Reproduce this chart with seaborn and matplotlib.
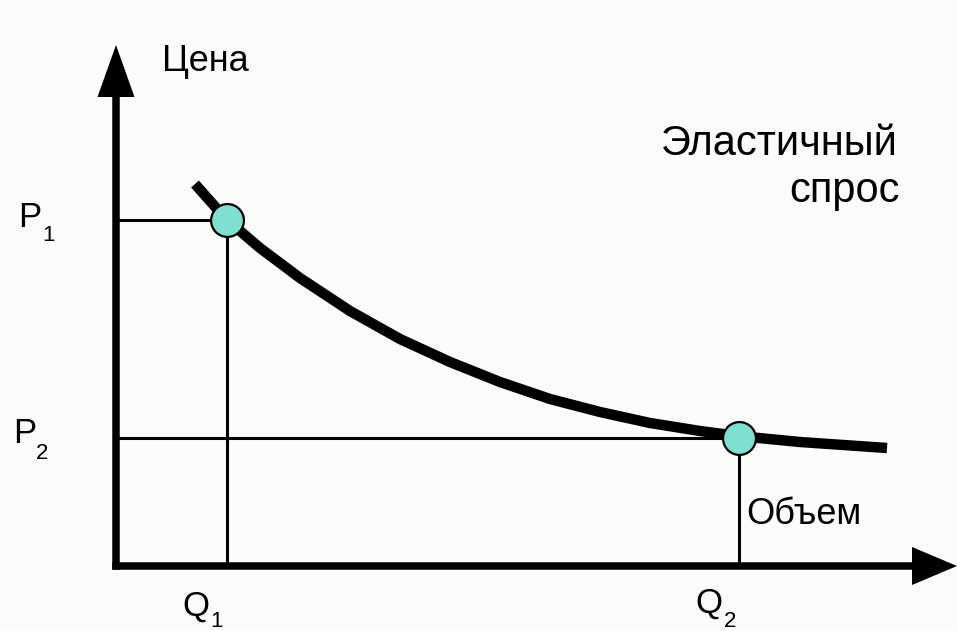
import matplotlib

matplotlib.use("Agg")
import matplotlib.pyplot as plt
import pandas as pd
import seaborn as sns

# demand curve (quantity, price), 1 unit ~ 1 px
demand_q = [79, 110, 144, 184, 234, 284, 334, 384, 434, 484, 534, 584, 622, 684, 771]
demand_p = [382, 347, 318, 288, 255, 227, 204, 184, 167, 154, 143, 135, 130, 124, 118]

# the two marked points
point_labels = ["1", "2"]
point_q = [111, 623]
point_p = [346, 128]

axis_labels = {"price": "Цена", "volume": "Объем"}
curve_label = ["Эластичный", "спрос"]

X_MAX = 841
Y_MAX = 521
FONT = ["Liberation Sans", "DejaVu Sans"]


def main() -> None:
    sns.set_theme(style="white")
    plt.rcParams["font.family"] = FONT
    plt.rcParams["text.color"] = "black"

    fig = plt.figure(figsize=(9.57, 6.31), dpi=100)
    fig.patch.set_facecolor("#fbfbfb")
    ax = fig.add_axes([0, 0, 1, 1])
    ax.set_facecolor("#fbfbfb")
    ax.set_xlim(-116, X_MAX)
    ax.set_ylim(-65, 566)
    ax.set_axis_off()

    # axes with arrow heads
    ax.arrow(0, -3.5, 0, Y_MAX + 3.5, width=7.5, head_width=37, head_length=52,
             length_includes_head=True, fc="black", ec="none", zorder=3)
    ax.arrow(-3.75, 0, X_MAX + 3.75, 0, width=7.5, head_width=38, head_length=45,
             length_includes_head=True, fc="black", ec="none", zorder=3)

    # guide lines from the points to the axes
    for q, p in zip(point_q, point_p):
        ax.plot([0, q], [p, p], color="black", lw=2.2, zorder=2)
        ax.plot([q, q], [0, p], color="black", lw=2.2, zorder=2)

    curve = pd.DataFrame({"q": demand_q, "p": demand_p})
    sns.lineplot(data=curve, x="q", y="p", sort=False, color="black", lw=7.5,
                 ax=ax, zorder=4, solid_capstyle="butt", solid_joinstyle="round")

    pts = pd.DataFrame({"q": point_q, "p": point_p})
    sns.scatterplot(data=pts, x="q", y="p", s=560, color="#80e0d0",
                    edgecolor="black", linewidth=1.6, ax=ax, zorder=5)

    ax.text(46, 495, axis_labels["price"], fontsize=26, va="baseline", ha="left")
    ax.text(630, 42, axis_labels["volume"], fontsize=26, va="baseline", ha="left")
    ax.text(782, 411, curve_label[0], fontsize=30, va="baseline", ha="right")
    ax.text(784, 364, curve_label[1], fontsize=30, va="baseline", ha="right")

    # P1, P2, Q1, Q2 with separate subscripts
    ax.text(-98, 339, "P", fontsize=25, va="baseline")
    ax.text(-74, 325, point_labels[0], fontsize=16, va="baseline")
    ax.text(-103, 123, "P", fontsize=25, va="baseline")
    ax.text(-80, 107, point_labels[1], fontsize=16, va="baseline")
    ax.text(66, -50, "Q", fontsize=25, va="baseline")
    ax.text(94, -61, point_labels[0], fontsize=16, va="baseline")
    ax.text(579, -47, "Q", fontsize=25, va="baseline")
    ax.text(608, -61, point_labels[1], fontsize=16, va="baseline")

    fig.savefig("out.png", dpi=100, facecolor=fig.get_facecolor())
    plt.close(fig)


if __name__ == "__main__":
    main()
